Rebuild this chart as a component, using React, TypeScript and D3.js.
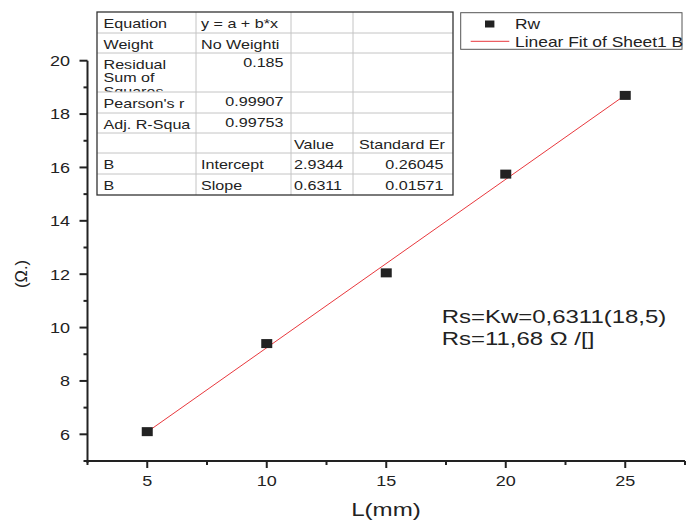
import React from "react";
import * as d3 from "d3";

// Measured sheet resistance against length
const lengths = [5, 10, 15, 20, 25];
const resistances = [6.1, 9.4, 12.05, 15.75, 18.7];

// Linear fit parameters (y = a + b*x)
const intercept = 2.9344;
const slope = 0.6311;

const xTicks = [5, 10, 15, 20, 25];
const xMinorTicks = [2.5, 7.5, 12.5, 17.5, 22.5, 27.5];
const yTicks = [6, 8, 10, 12, 14, 16, 18, 20];
const yMinorTicks = [7, 9, 11, 13, 15, 17, 19];

// Fit report table
const tableCol1 = ["Equation", "Weight", "Residual\nSum of\nSquares", "Pearson's r", "Adj. R-Squa", "", "B", "B"];
const tableCol2 = ["y = a + b*x", "No Weighti", "0.185", "0.99907", "0.99753", "", "Intercept", "Slope"];
const tableCol3 = ["", "", "", "", "", "Value", String(intercept), String(slope)];
const tableCol4 = ["", "", "", "", "", "Standard Er", "0.26045", "0.01571"];
const col2Numeric = [false, false, true, true, true, false, false, false];

const legendLabels = ["Rw", "Linear Fit of Sheet1 B"];
const noteLines = ["Rs=Kw=0,6311(18,5)", "Rs=11,68 \u03A9 /[]"];

const FONT = "Liberation Sans, Arial, Helvetica, sans-serif";
const INK = "#222";
const RED = "#e8383d";

type TProps = {
  x: number;
  y: number;
  size: number;
  sx?: number;
  anchor?: "start" | "middle" | "end";
  rotate?: number;
  baseline?: string;
  children: React.ReactNode;
};

// Text with a horizontal stretch applied in page space
function T({ x, y, size, sx = 1, anchor = "start", rotate = 0, baseline, children }: TProps) {
  return (
    <text
      transform={`translate(${x},${y}) scale(${sx},1) rotate(${rotate})`}
      fontFamily={FONT}
      fontSize={size}
      fill={INK}
      textAnchor={anchor}
      dominantBaseline={baseline}
    >
      {children}
    </text>
  );
}

export default function App() {
  const x = d3.scaleLinear().domain([2.5, 27.5]).range([87.5, 685]);
  const y = d3.scaleLinear().domain([5, 20]).range([461, 60.7]);

  const fitLine = d3
    .line<number>()
    .x((d) => x(d))
    .y((d) => y(intercept + slope * d));

  const axisX0 = x(2.5);
  const axisY0 = y(5);

  // table layout
  const colEdges = [97, 196, 291, 353, 453];
  const rowEdges = [12, 33, 53, 92, 113, 133, 153, 174, 195];

  return (
    <svg
      width={687}
      height={520}
      style={{ position: "absolute", left: 0, top: 0, background: "#fff" }}
    >
      <rect x={0} y={0} width={687} height={520} fill="#fff" />

      {/* fit line */}
      <path d={fitLine([lengths[0], lengths[lengths.length - 1]]) || ""} stroke={RED} strokeWidth={1} fill="none" />

      {/* data points */}
      {lengths.map((l, i) => (
        <rect
          key={i}
          x={x(l) - 5.5}
          y={y(resistances[i]) - 4.5}
          width={11}
          height={9}
          fill={INK}
        />
      ))}

      {/* axes */}
      <line x1={axisX0} y1={y(20)} x2={axisX0} y2={axisY0 + 2} stroke={INK} strokeWidth={2} />
      <line x1={axisX0 - 4} y1={axisY0} x2={x(27.5)} y2={axisY0} stroke={INK} strokeWidth={2} />

      {yTicks.map((t) => (
        <g key={"yt" + t}>
          <line x1={axisX0 - 8} x2={axisX0} y1={y(t)} y2={y(t)} stroke={INK} strokeWidth={2} />
          <T x={70} y={y(t) + 5.4} size={15} sx={1.2} anchor="end">
            {t}
          </T>
        </g>
      ))}
      {yMinorTicks.map((t) => (
        <line key={"ym" + t} x1={axisX0 - 4} x2={axisX0} y1={y(t)} y2={y(t)} stroke={INK} strokeWidth={2} />
      ))}

      {xTicks.map((t) => (
        <g key={"xt" + t}>
          <line x1={x(t)} x2={x(t)} y1={axisY0} y2={axisY0 + 7} stroke={INK} strokeWidth={2} />
          <T x={x(t)} y={486} size={15} sx={1.2} anchor="middle">
            {t}
          </T>
        </g>
      ))}
      {xMinorTicks.map((t) => (
        <line key={"xm" + t} x1={x(t)} x2={x(t)} y1={axisY0} y2={axisY0 + 4} stroke={INK} strokeWidth={2} />
      ))}

      {/* axis titles */}
      <T x={386} y={516} size={17.5} sx={1.38} anchor="middle">
        L(mm)
      </T>
      <T x={21} y={274} size={16.5} rotate={-90} anchor="middle" baseline="central">
        (Ω.)
      </T>

      {/* fit report table */}
      <g>
        <rect
          x={colEdges[0]}
          y={rowEdges[0]}
          width={colEdges[4] - colEdges[0]}
          height={rowEdges[8] - rowEdges[0]}
          fill="#fff"
        />
        {rowEdges.slice(1, -1).map((r) => (
          <line key={"r" + r} x1={colEdges[0]} x2={colEdges[4]} y1={r} y2={r} stroke="#c4c4c4" strokeWidth={1} />
        ))}
        {colEdges.slice(1, -1).map((c) => (
          <line key={"c" + c} x1={c} x2={c} y1={rowEdges[0]} y2={rowEdges[8]} stroke="#c4c4c4" strokeWidth={1} />
        ))}
        <rect
          x={colEdges[0]}
          y={rowEdges[0]}
          width={colEdges[4] - colEdges[0]}
          height={rowEdges[8] - rowEdges[0]}
          fill="none"
          stroke="#333"
          strokeWidth={1.3}
        />
        <defs>
          {rowEdges.slice(0, -1).map((r, i) => (
            <clipPath key={"cp" + i} id={"row" + i}>
              <rect x={colEdges[0]} y={r + 0.5} width={colEdges[4] - colEdges[0]} height={rowEdges[i + 1] - r - 1} />
            </clipPath>
          ))}
        </defs>
        {rowEdges.slice(0, -1).map((r, i) => {
          const base = r + 15.5;
          const lines1 = tableCol1[i].split("\n");
          return (
            <g key={"row" + i} clipPath={`url(#row${i})`}>
              {lines1.map((s, k) => (
                <T key={k} x={colEdges[0] + 6.5} y={base + k * 13.6} size={13} sx={1.24}>
                  {s}
                </T>
              ))}
              {tableCol2[i] &&
                (col2Numeric[i] ? (
                  <T x={colEdges[2] - 7.5} y={base - 1.5} size={13} sx={1.24} anchor="end">
                    {tableCol2[i]}
                  </T>
                ) : (
                  <T x={colEdges[1] + 5} y={base} size={13} sx={1.24}>
                    {tableCol2[i]}
                  </T>
                ))}
              {tableCol3[i] && (
                <T x={colEdges[2] + 3} y={base} size={13} sx={1.24}>
                  {tableCol3[i]}
                </T>
              )}
              {tableCol4[i] &&
                (i === 5 ? (
                  <T x={colEdges[3] + 6} y={base} size={13} sx={1.24}>
                    {tableCol4[i]}
                  </T>
                ) : (
                  <T x={colEdges[4] - 9.5} y={base} size={13} sx={1.24} anchor="end">
                    {tableCol4[i]}
                  </T>
                ))}
            </g>
          );
        })}
      </g>

      {/* legend */}
      <g>
        <rect x={460.7} y={12.7} width={221.3} height={36.6} fill="#fff" stroke="#555" strokeWidth={1} />
        <rect x={485} y={20.5} width={9.4} height={7} fill={INK} />
        <line x1={470.7} x2={509.3} y1={41.3} y2={41.3} stroke={RED} strokeWidth={1} />
        <T x={515} y={29.3} size={15} sx={1.16}>
          {legendLabels[0]}
        </T>
        <T x={515} y={46.7} size={15} sx={1.16}>
          {legendLabels[1]}
        </T>
      </g>

      {/* annotation */}
      {noteLines.map((s, i) => (
        <T key={i} x={441.7} y={323.3 + i * 21.8} size={17.5} sx={1.37}>
          {s}
        </T>
      ))}
    </svg>
  );
}
